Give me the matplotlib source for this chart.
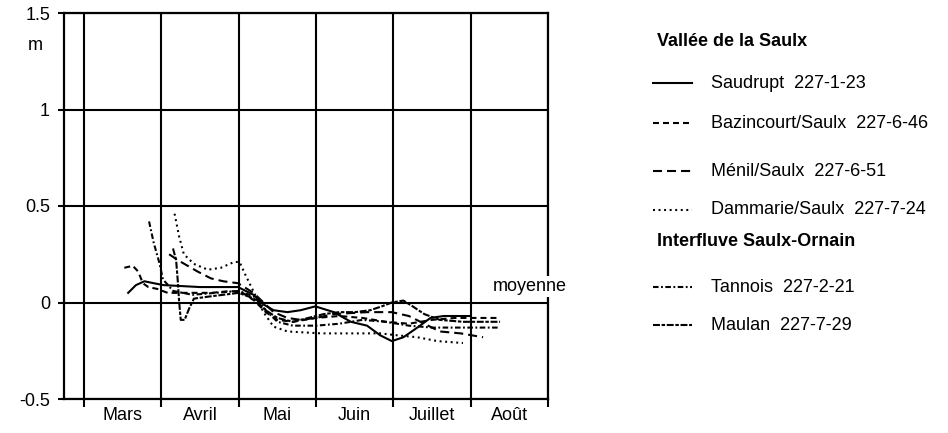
import matplotlib
matplotlib.use("Agg")
import matplotlib.pyplot as plt

plt.rcParams['font.family'] = ['Liberation Sans', 'DejaVu Sans']
plt.rcParams['lines.scale_dashes'] = False

# Month labels, centred between the month boundaries (t = months since 1 March)
months = ["Mars", "Avril", "Mai", "Juin", "Juillet", "Août"]
y_ticks = [-0.5, 0, 0.5, 1, 1.5]
y_tick_labels = ["-0.5", "0", "0.5", "1", "1.5"]

# Piezometric level relative to the mean (m); t in months since 1 March
saudrupt_t = [0.57, 0.67, 0.78, 0.90, 1.03, 1.50, 1.99, 2.19, 2.32, 2.45, 2.63, 2.80,
              2.99, 3.23, 3.45, 3.66, 3.83, 3.98, 4.13, 4.31, 4.48, 4.65, 4.99]
saudrupt_h = [0.05, 0.09, 0.11, 0.10, 0.09, 0.08, 0.08, 0.04, -0.01, -0.04, -0.05, -0.04,
              -0.02, -0.05, -0.10, -0.12, -0.17, -0.20, -0.18, -0.13, -0.08, -0.07, -0.07]

bazincourt_t = [0.52, 0.63, 0.70, 0.76, 0.83, 0.95, 1.08, 1.40, 1.65, 1.90, 2.05, 2.20,
                2.35, 2.50, 2.70, 3.00, 3.30, 3.60, 3.90, 4.20, 4.50, 4.80, 5.10, 5.38]
bazincourt_h = [0.18, 0.19, 0.16, 0.10, 0.08, 0.07, 0.05, 0.05, 0.05, 0.06, 0.05, 0.01,
                -0.05, -0.09, -0.10, -0.08, -0.07, -0.08, -0.10, -0.11, -0.09, -0.08, -0.08, -0.08]

menil_t = [1.10, 1.21, 1.34, 1.47, 1.64, 1.80, 1.99, 2.19, 2.32, 2.45, 2.63, 2.80,
           3.00, 3.23, 3.66, 3.98, 4.20, 4.35, 4.60, 4.87, 5.16]
menil_h = [0.25, 0.22, 0.19, 0.16, 0.125, 0.11, 0.10, 0.05, 0.0, -0.05, -0.08, -0.09,
           -0.08, -0.06, -0.05, -0.05, -0.07, -0.10, -0.15, -0.16, -0.18]

dammarie_t = [1.17, 1.23, 1.29, 1.42, 1.60, 1.77, 1.94, 2.01, 2.09, 2.20, 2.32, 2.45,
              2.63, 3.06, 3.45, 3.83, 4.05, 4.31, 4.57, 4.90]
dammarie_h = [0.46, 0.34, 0.25, 0.20, 0.17, 0.18, 0.21, 0.21, 0.14, 0.05, -0.05, -0.125,
              -0.15, -0.16, -0.16, -0.16, -0.17, -0.18, -0.20, -0.21]

tannois_t = [0.84, 0.90, 0.97, 1.02, 1.15, 1.40, 1.70, 2.00, 2.20, 2.35, 2.50, 2.70,
             3.00, 3.30, 3.60, 3.90, 4.20, 4.50, 4.80, 5.10, 5.38]
tannois_h = [0.42, 0.31, 0.21, 0.12, 0.06, 0.04, 0.05, 0.06, 0.03, -0.04, -0.10, -0.12,
             -0.12, -0.11, -0.09, -0.10, -0.12, -0.13, -0.13, -0.13, -0.13]

maulan_t = [1.15, 1.19, 1.21, 1.23, 1.25, 1.30, 1.36, 1.42, 1.60, 1.80, 2.00, 2.20,
            2.35, 2.50, 2.70, 2.90, 3.10, 3.30, 3.50, 3.70, 3.85, 3.98, 4.13, 4.25,
            4.40, 4.60, 4.90, 5.38]
maulan_h = [0.28, 0.22, 0.12, 0.0, -0.09, -0.09, -0.03, 0.02, 0.03, 0.04, 0.05, 0.02,
            -0.04, -0.08, -0.10, -0.08, -0.06, -0.05, -0.05, -0.04, -0.02, 0.0, 0.01, -0.02,
            -0.06, -0.09, -0.10, -0.10]

groups = [
    ("Vallée de la Saulx", [
        ("Saudrupt  227-1-23", saudrupt_t, saudrupt_h, '-'),
        ("Bazincourt/Saulx  227-6-46", bazincourt_t, bazincourt_h, (0, (4.3, 2.9))),
        ("Ménil/Saulx  227-6-51", menil_t, menil_h, (0, (6.5, 3.6))),
        ("Dammarie/Saulx  227-7-24", dammarie_t, dammarie_h, (0, (1.4, 2.6))),
    ]),
    ("Interfluve Saulx-Ornain", [
        ("Tannois  227-2-21", tannois_t, tannois_h, (0, (4.0, 1.8, 1.3, 1.8))),
        ("Maulan  227-7-29", maulan_t, maulan_h, (0, (5.0, 1.2, 2.5, 1.2))),
    ]),
]

W, H = 948, 433
fig = plt.figure(figsize=(W / 100, H / 100), dpi=100)
ax = fig.add_axes([64 / W, 1 - 399 / H, (548 - 64) / W, (399 - 13) / H])

ax.set_xlim(-0.26, 6)
ax.set_ylim(-0.5, 1.5)

for spine in ax.spines.values():
    spine.set_linewidth(1.6)

ax.set_xticks(range(0, 7))
ax.set_xticklabels([])
ax.set_xticks([i + 0.5 for i in range(len(months))], minor=True)
ax.set_xticklabels(months, minor=True, fontsize=13)
ax.tick_params(axis='x', which='major', direction='out', length=6, width=1.5)
ax.tick_params(axis='x', which='minor', length=0, pad=6)

ax.set_yticks(y_ticks)
ax.set_yticklabels(y_tick_labels, fontsize=13)
ax.tick_params(axis='y', direction='out', length=4, width=1.5, pad=6)

ax.grid(True, which='major', color='black', linewidth=1.5)
ax.set_axisbelow(True)

ax.text((35 - 64) / (548 - 64), (399 - 46) / (399 - 13), "m", transform=ax.transAxes,
        ha='center', va='center', fontsize=13)

ax.text(5.77, 0.083, "moyenne", ha='center', va='center', fontsize=13, zorder=6,
        clip_on=False, bbox=dict(facecolor='white', edgecolor='none', pad=1.5))

for _, members in groups:
    for label, t, h, ls in members:
        ax.plot(t, h, color='black', linewidth=1.5, linestyle=ls, zorder=4)

# Legend panel laid out in figure pixels
lax = fig.add_axes([0, 0, 1, 1])
lax.set_xlim(0, W)
lax.set_ylim(H, 0)
lax.axis('off')

title_rows = [42, 242]
entry_rows = [[83, 123, 171, 210], [287, 325]]
for (title, members), ty, rows in zip(groups, title_rows, entry_rows):
    lax.text(657, ty, title, ha='left', va='center', fontsize=13, fontweight='bold')
    for (label, t, h, ls), ry in zip(members, rows):
        lax.plot([653, 692], [ry, ry], color='black', linewidth=1.5, linestyle=ls)
        lax.text(711, ry, label, ha='left', va='center', fontsize=13)

fig.savefig("out.png", dpi=100)
